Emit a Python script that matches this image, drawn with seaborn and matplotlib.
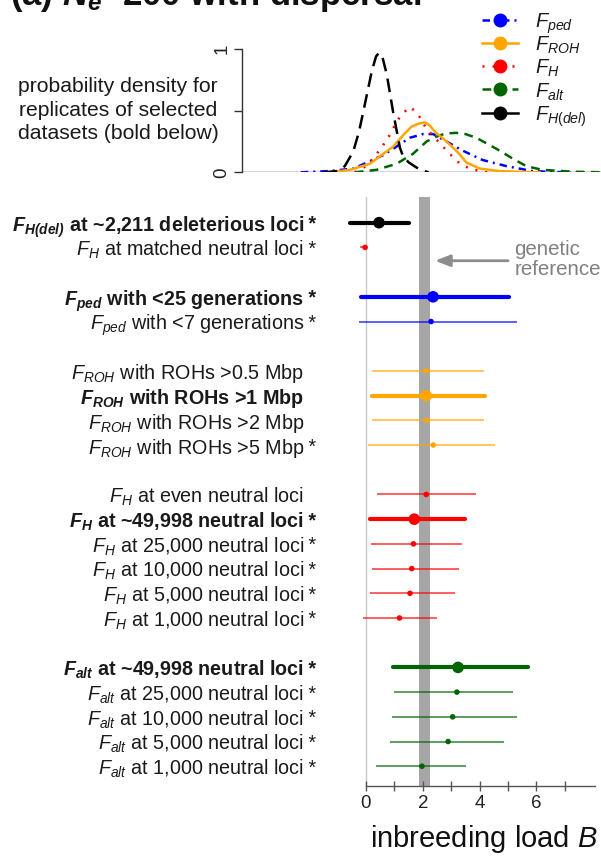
import matplotlib
matplotlib.use("Agg")
import matplotlib.pyplot as plt
import matplotlib.transforms as mtransforms
from matplotlib.lines import Line2D
import seaborn as sns

plt.rcParams['font.family'] = ['Liberation Sans', 'DejaVu Sans']
plt.rcParams['mathtext.fontset'] = 'custom'
plt.rcParams['mathtext.rm'] = 'Liberation Sans'
plt.rcParams['mathtext.it'] = 'Liberation Sans:italic'
plt.rcParams['mathtext.bf'] = 'Liberation Sans:bold'
plt.rcParams['mathtext.bfit'] = 'Liberation Sans:bold:italic'
plt.rcParams['mathtext.sf'] = 'Liberation Sans'

# ---------------- data ----------------
row_labels = [
    r"$\mathbfit{F}_{\mathbfit{H(del)}}$ at ~2,211 deleterious loci",
    r"$F_{H}$ at matched neutral loci",
    r"$\mathbfit{F}_{\mathbfit{ped}}$ with <25 generations",
    r"$F_{ped}$ with <7 generations",
    r"$F_{ROH}$ with ROHs >0.5 Mbp",
    r"$\mathbfit{F}_{\mathbfit{ROH}}$ with ROHs >1 Mbp",
    r"$F_{ROH}$ with ROHs >2 Mbp",
    r"$F_{ROH}$ with ROHs >5 Mbp",
    r"$F_{H}$ at even neutral loci",
    r"$\mathbfit{F}_{\mathbfit{H}}$ at ~49,998 neutral loci",
    r"$F_{H}$ at 25,000 neutral loci",
    r"$F_{H}$ at 10,000 neutral loci",
    r"$F_{H}$ at 5,000 neutral loci",
    r"$F_{H}$ at 1,000 neutral loci",
    r"$\mathbfit{F}_{\mathbfit{alt}}$ at ~49,998 neutral loci",
    r"$F_{alt}$ at 25,000 neutral loci",
    r"$F_{alt}$ at 10,000 neutral loci",
    r"$F_{alt}$ at 5,000 neutral loci",
    r"$F_{alt}$ at 1,000 neutral loci",
]
row_pos = [0, 1, 3, 4, 6, 7, 8, 9, 11, 12, 13, 14, 15, 16, 18, 19, 20, 21, 22]
row_bold = [1, 0, 1, 0, 0, 1, 0, 0, 0, 1, 0, 0, 0, 0, 1, 0, 0, 0, 0]
row_star = [1, 1, 1, 1, 0, 0, 0, 1, 0, 1, 1, 1, 1, 1, 1, 1, 1, 1, 1]
row_group = ["del", "H", "ped", "ped", "ROH", "ROH", "ROH", "ROH",
             "H", "H", "H", "H", "H", "H", "alt", "alt", "alt", "alt", "alt"]
est = [0.46, -0.03, 2.36, 2.29, 2.12, 2.12, 2.14, 2.37,
       2.12, 1.70, 1.67, 1.61, 1.55, 1.18, 3.24, 3.20, 3.05, 2.89, 1.97]
ci_lo = [-0.57, -0.2, -0.18, -0.25, 0.22, 0.20, 0.22, 0.08,
         0.38, 0.14, 0.18, 0.20, 0.14, -0.10, 0.96, 0.98, 0.90, 0.85, 0.34]
ci_hi = [1.51, 0.0, 5.03, 5.32, 4.14, 4.18, 4.14, 4.54,
         3.87, 3.48, 3.37, 3.26, 3.12, 2.50, 5.70, 5.19, 5.32, 4.85, 3.52]

genetic_ref = (1.88, 2.25)

# density curves
dens_ped_x = [-2.3, -1.3, -0.45, 0.14, 0.6, 1.08, 1.54, 2.0, 2.36, 2.83, 3.36, 4.1, 4.94, 5.86, 6.5, 7.2]
dens_ped_y = [0.0, 0.01, 0.03, 0.09, 0.14, 0.21, 0.28, 0.31, 0.31, 0.25, 0.18, 0.10, 0.05, 0.01, 0.003, 0.0]
dens_roh_x = [-1.3, -0.56, 0.14, 0.49, 0.96, 1.3, 1.6, 1.85, 2.07, 2.22, 2.42, 2.83, 3.24, 3.53, 4.0, 4.7, 5.5, 6.1]
dens_roh_y = [0.0, 0.02, 0.07, 0.13, 0.21, 0.30, 0.37, 0.395, 0.405, 0.385, 0.33, 0.25, 0.16, 0.08, 0.03, 0.01, 0.003, 0.0]
dens_h_x = [-0.4, 0.0, 0.25, 0.6, 0.8, 1.1, 1.3, 1.55, 1.75, 1.95, 2.1, 2.5, 2.9, 3.3, 3.65, 4.0, 4.3]
dens_h_y = [0.0, 0.05, 0.11, 0.22, 0.29, 0.42, 0.48, 0.53, 0.49, 0.43, 0.36, 0.26, 0.16, 0.07, 0.03, 0.01, 0.0]
dens_alt_x = [-0.4, 0.37, 1.08, 1.65, 2.13, 2.48, 2.8, 3.18, 3.5, 3.88, 4.59, 5.17, 5.64, 6.2, 7.27, 8.3]
dens_alt_y = [0.0, 0.02, 0.07, 0.15, 0.25, 0.29, 0.315, 0.32, 0.31, 0.28, 0.19, 0.11, 0.05, 0.02, 0.005, 0.0]
dens_del_x = [-1.5, -1.0, -0.75, -0.45, -0.25, -0.1, 0.2, 0.35, 0.46, 0.58, 0.73, 0.95, 1.19, 1.3, 1.5, 1.9, 2.2]
dens_del_y = [0.0, 0.01, 0.05, 0.17, 0.33, 0.49, 0.82, 0.94, 0.97, 0.93, 0.79, 0.49, 0.2, 0.13, 0.08, 0.02, 0.0]

legend_labels = [r"$F_{ped}$", r"$F_{ROH}$", r"$F_{H}$", r"$F_{alt}$", r"$F_{H(del)}$"]
legend_groups = ["ped", "ROH", "H", "alt", "del"]

colors = {"ped": "#0000FF", "ROH": "#FFA500", "H": "#FF0000", "alt": "#006400", "del": "#000000"}
dens_styles = {"ped": (0, (3, 2, 0.8, 2)), "ROH": "-", "H": (0, (0.8, 3.2)),
               "alt": (0, (3.5, 2.5)), "del": (0, (5.5, 3))}
legend_styles = {"ped": (0, (3, 2, 0.8, 2)), "ROH": "-", "H": (0, (0.8, 3.2)),
                 "alt": (0, (3.5, 2.5)), "del": "-"}

# ---------------- figure ----------------
W, H = 601, 856
fig = plt.figure(figsize=(W / 100, H / 100), dpi=100)

ax = fig.add_axes([345.5 / W, (H - 786) / H, (595 - 345.5) / W, (786 - 197) / H])
axd = fig.add_axes([241.7 / W, (H - 172.3) / H, (601 - 241.7) / W, (172.3 - 49) / H])

# ---- forest panel ----
ax.set_xlim(-0.72, 8.06)
ax.set_ylim(22.8, -1.04)
ax.axvspan(genetic_ref[0], genetic_ref[1], color="#a6a6a6", lw=0, zorder=0)
ax.axvline(0, color="#c8c8c8", lw=1.0, zorder=0.5)

for i in range(len(est)):
    c = colors[row_group[i]]
    if row_bold[i]:
        ax.hlines(row_pos[i], ci_lo[i], ci_hi[i], color=c, lw=3.0, zorder=2, capstyle="round")
    else:
        ax.hlines(row_pos[i], ci_lo[i], ci_hi[i], color=c, lw=1.1, alpha=0.8, zorder=2)

for bold in (0, 1):
    for g in colors:
        xs = [est[i] for i in range(len(est)) if row_bold[i] == bold and row_group[i] == g]
        ys = [row_pos[i] for i in range(len(est)) if row_bold[i] == bold and row_group[i] == g]
        if xs:
            sns.scatterplot(x=xs, y=ys, ax=ax, color=colors[g], s=(70 if bold else 16),
                            edgecolor="none", linewidth=0, zorder=3, legend=False)

for s in ("left", "top", "right"):
    ax.spines[s].set_visible(False)
ax.spines["bottom"].set_color("#555555")
ax.spines["bottom"].set_linewidth(1.0)
ax.spines["bottom"].set_bounds(0, 8.06)
ax.set_yticks([])
ax.set_xticks(range(0, 8))
ax.set_xticklabels(["0", "", "2", "", "4", "", "6", ""])
ax.tick_params(axis="x", direction="inout", length=7, width=1.0, color="#555555",
               labelsize=13.5, labelcolor="#222222", pad=3)
ax.set_xlabel("")
ax.set_ylabel("")

trans = mtransforms.blended_transform_factory(fig.transFigure, ax.transData)
for i, lab in enumerate(row_labels):
    kw = dict(transform=trans, va="center_baseline", fontsize=14.2,
              fontweight=("bold" if row_bold[i] else "normal"), color="#1a1a1a")
    ax.text(304 / W, row_pos[i], lab, ha="right", **kw)
    if row_star[i]:
        ax.text(303 / W, row_pos[i], " *", ha="left", **kw)

ax.annotate("", xy=(2.43, 1.54), xytext=(5.0, 1.54),
            arrowprops=dict(arrowstyle="-|>,head_length=0.9,head_width=0.35",
                            color="#8c8c8c", lw=2.0, shrinkA=0, shrinkB=0))
ax.text(5.22, 1.5, "genetic\nreference", ha="left", va="center", fontsize=14.8,
        color="#808080", linespacing=1.05)

# ---- density panel ----
axd.set_xlim(-4.38, 8.27)
axd.set_ylim(0, 1)
axd.axhline(0, color="#d0d0d0", lw=2.0, zorder=0)
lw_d = 1.8
dens = {"ped": (dens_ped_x, dens_ped_y), "alt": (dens_alt_x, dens_alt_y),
        "H": (dens_h_x, dens_h_y), "ROH": (dens_roh_x, dens_roh_y),
        "del": (dens_del_x, dens_del_y)}
for g in ["ped", "alt", "H", "ROH", "del"]:
    sns.lineplot(x=dens[g][0], y=dens[g][1], ax=axd, color=colors[g], lw=lw_d,
                 linestyle=dens_styles[g])
for s in ("top", "right", "bottom"):
    axd.spines[s].set_visible(False)
axd.spines["left"].set_color("#333333")
axd.spines["left"].set_linewidth(1.0)
axd.set_xticks([])
axd.set_yticks([0, 0.5, 1])
axd.set_yticklabels(["0", "", "1"], rotation=90, va="center")
axd.tick_params(axis="y", direction="out", length=6, width=1.0, color="#333333",
                labelsize=13.5, labelcolor="#222222", pad=2)
axd.set_xlabel("")
axd.set_ylabel("")
axd.patch.set_alpha(0)

fig.text(118 / W, 1 - 110 / H, "probability density for\nreplicates of selected\ndatasets (bold below)",
         ha="center", va="center", fontsize=15.2, color="#1a1a1a", linespacing=1.33)

# legend (drawn as line + marker + label per row)
for k, g in enumerate(legend_groups):
    yp = 1 - (19.5 + 23.3 * k) / H
    fig.add_artist(Line2D([481.6 / W, 517.5 / W], [yp, yp], transform=fig.transFigure,
                          color=colors[g], lw=lw_d, linestyle=legend_styles[g]))
    fig.add_artist(Line2D([499.5 / W], [yp], transform=fig.transFigure, color=colors[g],
                          marker="o", markersize=9, linestyle="none"))
    fig.text(535 / W, yp, legend_labels[k], ha="left", va="center_baseline",
             fontsize=14.5, color="#1a1a1a")

# title & x label
fig.text(10 / W, 1 - 5 / H, r"(a) $\mathbfit{N}_{\mathbfit{e}}$=200 with dispersal",
         ha="left", va="baseline", fontsize=25, fontweight="bold", color="#111111")
fig.text(484 / W, 1 - 846.7 / H, r"inbreeding load $\mathit{B}$", ha="center", va="baseline",
         fontsize=21, color="#111111")

fig.savefig("out.png", dpi=100)
